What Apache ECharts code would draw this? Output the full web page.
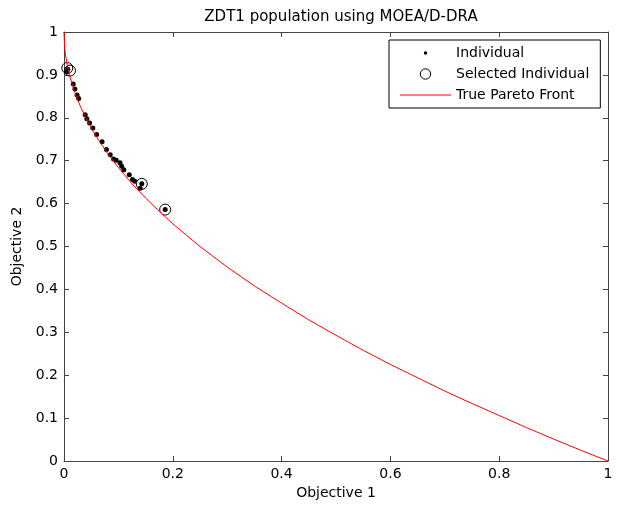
<!DOCTYPE html>
<html>
<head>
<meta charset="utf-8">
<script src="https://cdn.jsdelivr.net/npm/echarts@6/dist/echarts.min.js"></script>
<style>
  html, body { margin: 0; padding: 0; background: #fff; }
  #chart { width: 617px; height: 509px; }
</style>
</head>
<body>
<div id="chart"></div>
<script>
// population (black dots)
var indivX = [0.005, 0.007, 0.017, 0.020, 0.024, 0.027, 0.039, 0.042, 0.047, 0.053, 0.060, 0.070,
  0.078, 0.085, 0.091, 0.096, 0.103, 0.106, 0.110, 0.120, 0.126, 0.130, 0.143, 0.140, 0.186];
var indivY = [0.907, 0.913, 0.879, 0.867, 0.853, 0.845, 0.807, 0.798, 0.788, 0.776, 0.761, 0.744,
  0.726, 0.714, 0.704, 0.701, 0.695, 0.687, 0.679, 0.667, 0.656, 0.652, 0.646, 0.636, 0.586];
// selected individuals (open circles)
var selX = [0.006, 0.011, 0.143, 0.186];
var selY = [0.916, 0.910, 0.646, 0.586];
// true pareto front
var frontX = [0, 0.001, 0.003, 0.006, 0.01, 0.015, 0.02, 0.03, 0.04, 0.05, 0.065, 0.08, 0.1, 0.125,
  0.15, 0.175, 0.2, 0.25, 0.3, 0.35, 0.4, 0.45, 0.5, 0.55, 0.6, 0.65, 0.7, 0.75, 0.8, 0.85, 0.9, 0.95, 1];
var frontY = [1, 0.968, 0.945, 0.923, 0.900, 0.878, 0.859, 0.827, 0.800, 0.776, 0.745, 0.717, 0.684, 0.646,
  0.613, 0.582, 0.553, 0.500, 0.452, 0.408, 0.368, 0.329, 0.293, 0.258, 0.225, 0.194, 0.163, 0.134, 0.106, 0.078, 0.051, 0.025, 0];

function pairs(xs, ys) {
  var out = [];
  for (var i = 0; i < xs.length; i++) { out.push([xs[i], ys[i]]); }
  return out;
}

var font = 'DejaVu Sans';
var axisColor = '#444';

function baseAxis(pos, interval, showLabel) {
  return {
    type: 'value',
    position: pos,
    min: 0,
    max: 1,
    interval: interval,
    axisLine: { show: true, onZero: false, lineStyle: { color: axisColor, width: 1 } },
    axisTick: { show: true, inside: true, length: 5, lineStyle: { color: axisColor } },
    axisLabel: { show: showLabel, color: '#000', fontFamily: font, fontSize: 14, margin: 6 },
    splitLine: { show: false }
  };
}

var xBottom = baseAxis('bottom', 0.2, true);
xBottom.name = 'Objective 1';
xBottom.nameLocation = 'middle';
xBottom.nameGap = 24;
xBottom.nameTextStyle = { color: '#000', fontFamily: font, fontSize: 14 };

var yLeft = baseAxis('left', 0.1, true);
yLeft.name = 'Objective 2';
yLeft.nameLocation = 'middle';
yLeft.nameGap = 33;
yLeft.nameTextStyle = { color: '#000', fontFamily: font, fontSize: 14 };

var chart = echarts.init(document.getElementById('chart'), null, { renderer: 'canvas' });
chart.setOption({
  backgroundColor: '#fff',
  animation: false,
  title: {
    text: 'ZDT1 population using MOEA/D-DRA',
    left: 336,
    textAlign: 'center',
    top: 5,
    textStyle: { color: '#000', fontFamily: font, fontSize: 15, fontWeight: 'normal' }
  },
  grid: { left: 64, right: 9, top: 32, bottom: 48 },
  xAxis: [xBottom, baseAxis('top', 0.2, false)],
  yAxis: [yLeft, baseAxis('right', 0.1, false)],
  legend: {
    orient: 'vertical',
    left: 389,
    top: 40,
    itemWidth: 51,
    itemHeight: 14,
    itemGap: 6.5,
    padding: [6, 11, 6, 11],
    backgroundColor: '#fff',
    borderColor: '#000',
    borderWidth: 1,
    borderRadius: 0,
    selectedMode: false,
    textStyle: { color: '#000', fontFamily: font, fontSize: 14 },
    data: [
      { name: 'Individual', icon: 'path://M0,0M14,14M5.3,7a1.7,1.7 0 1,0 3.4,0a1.7,1.7 0 1,0 -3.4,0z',
        itemStyle: { color: '#000', opacity: 1 } },
      { name: 'Selected Individual', icon: 'path://M0,0M14,14M1.8,7a5.2,5.2 0 1,0 10.4,0a5.2,5.2 0 1,0 -10.4,0z',
        itemStyle: { color: 'transparent', borderColor: '#000', borderWidth: 1, opacity: 1 } },
      { name: 'True Pareto Front', icon: 'path://M0,0M51,14M0,6.5h51v1h-51z',
        itemStyle: { color: '#ff0000', borderWidth: 0 } }
    ]
  },
  series: [
    {
      name: 'Individual',
      type: 'scatter',
      symbol: 'circle',
      symbolSize: 5,
      itemStyle: { color: '#000', opacity: 1 },
      data: pairs(indivX, indivY)
    },
    {
      name: 'Selected Individual',
      type: 'scatter',
      symbol: 'circle',
      symbolSize: 11,
      itemStyle: { color: 'transparent', borderColor: '#000', borderWidth: 1, opacity: 1 },
      data: pairs(selX, selY)
    },
    {
      name: 'True Pareto Front',
      type: 'line',
      symbol: 'none',
      showSymbol: false,
      lineStyle: { color: '#ff0000', width: 1 },
      itemStyle: { color: '#ff0000' },
      data: pairs(frontX, frontY)
    }
  ]
});
</script>
</body>
</html>
